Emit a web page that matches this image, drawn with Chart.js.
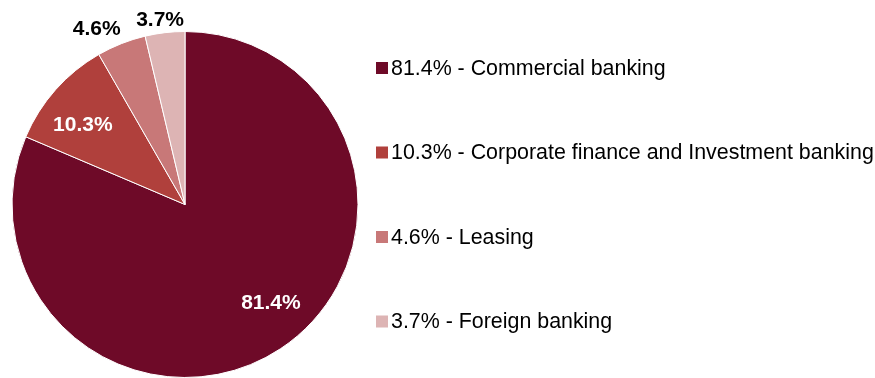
<!DOCTYPE html>
<html>
<head>
<meta charset="utf-8">
<script src="https://cdn.jsdelivr.net/npm/chart.js@4/dist/chart.umd.min.js"></script>
<style>
  html, body { margin: 0; padding: 0; background: #fff; }
  #wrap { width: 875px; height: 378px; position: relative; }
</style>
</head>
<body>
<div id="wrap"><canvas id="c"></canvas></div>
<script>
// Revenue split by business line
const segments = ['Commercial banking', 'Corporate finance and Investment banking', 'Leasing', 'Foreign banking'];
const shares = [81.4, 10.3, 4.6, 3.7];
const sliceColors = ['#6E0A28', '#B0403C', '#C87878', '#DDB4B4'];

// Label placement for each slice: radius as fraction of the pie radius, angle nudge in degrees
const labelRadius = [0.75, 0.75, 1.14, 1.08];
const labelAngleShift = [-8, -3.5, -5, -1];
const labelColors = ['#ffffff', '#ffffff', '#000000', '#000000'];

const FONT = '"Liberation Sans", Arial, sans-serif';

const sliceLabels = {
  id: 'sliceLabels',
  afterDatasetsDraw(chart) {
    const ctx = chart.ctx;
    const meta = chart.getDatasetMeta(0);
    ctx.save();
    ctx.font = 'bold 21px ' + FONT;
    ctx.textAlign = 'center';
    ctx.textBaseline = 'middle';
    meta.data.forEach((arc, i) => {
      const p = arc.getProps(['x', 'y', 'startAngle', 'endAngle', 'outerRadius'], true);
      const mid = (p.startAngle + p.endAngle) / 2 + labelAngleShift[i] * Math.PI / 180;
      const r = p.outerRadius * labelRadius[i];
      ctx.fillStyle = labelColors[i];
      ctx.fillText(shares[i].toFixed(1) + '%', p.x + Math.cos(mid) * r, p.y + Math.sin(mid) * r + 1);
    });
    ctx.restore();
  }
};

// Legend drawn to the right of the pie, one entry per slice, evenly spaced
const sideLegend = {
  id: 'sideLegend',
  afterDraw(chart) {
    const ctx = chart.ctx;
    const ds = chart.data.datasets[0];
    const x0 = 376, y0 = 68, step = 84.5, box = 12;
    ctx.save();
    ctx.font = '21.4px ' + FONT;
    ctx.textBaseline = 'middle';
    ctx.textAlign = 'left';
    chart.data.labels.forEach((lab, i) => {
      const y = y0 + i * step;
      ctx.fillStyle = ds.backgroundColor[i];
      ctx.fillRect(x0, y - box / 2, box, box);
      ctx.fillStyle = '#000000';
      ctx.fillText(ds.data[i].toFixed(1) + '% - ' + lab, x0 + 15, y + 1);
    });
    ctx.restore();
  }
};

new Chart(document.getElementById('c'), {
  type: 'pie',
  data: {
    labels: segments,
    datasets: [{
      data: shares,
      backgroundColor: sliceColors,
      borderColor: '#ffffff',
      borderWidth: 1
    }]
  },
  options: {
    responsive: true,
    maintainAspectRatio: false,
    animation: false,
    layout: { padding: { left: 11, right: 516, top: 31, bottom: 0 } },
    plugins: {
      legend: { display: false },
      tooltip: { enabled: false }
    }
  },
  plugins: [sliceLabels, sideLegend]
});
</script>
</body>
</html>
